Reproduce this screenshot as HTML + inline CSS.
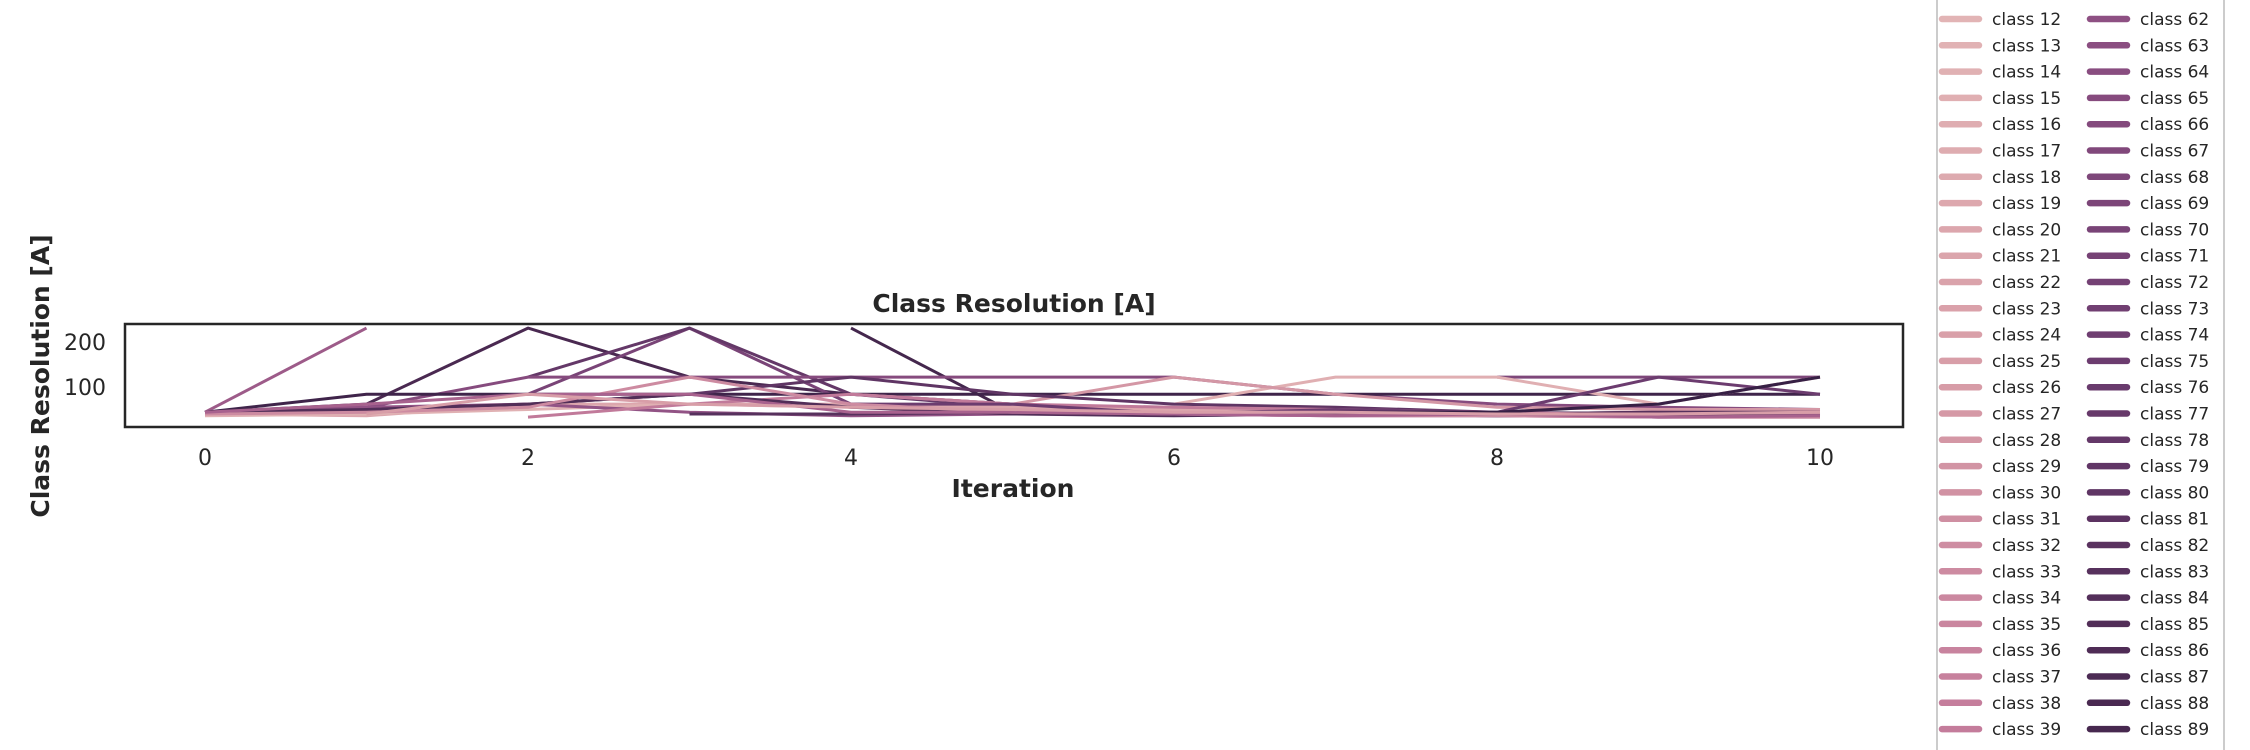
<!DOCTYPE html>
<html><head><meta charset="utf-8"><style>
html,body{margin:0;padding:0;background:#fff;width:2250px;height:750px;overflow:hidden}
svg{display:block;font-family:"DejaVu Sans","Liberation Sans",sans-serif}
</style></head><body>
<svg id="chart" width="2250" height="750" viewBox="0 0 2250 750">
<rect x="0" y="0" width="2250" height="750" fill="#fff"/>
<g id="plot"></g>
<rect x="125" y="324" width="1778" height="103" fill="none" stroke="#262626" stroke-width="2.5"/>
<text x="1014" y="312" text-anchor="middle" font-size="25" font-weight="bold" fill="#262626">Class Resolution [A]</text>
<text x="1013" y="497" text-anchor="middle" font-size="25" font-weight="bold" fill="#262626">Iteration</text>
<text transform="translate(49,376) rotate(-90)" text-anchor="middle" font-size="25" font-weight="bold" fill="#262626">Class Resolution [A]</text>
<g id="ticks"></g>
<line x1="1937" y1="0" x2="1937" y2="750" stroke="#cccccc" stroke-width="2"/>
<line x1="2224" y1="0" x2="2224" y2="750" stroke="#cccccc" stroke-width="2"/>
<g id="legend"></g>
</svg>
<script>
const iterations=[0,1,2,3,4,5,6,7,8,9,10];
const xTicks=[0,2,4,6,8,10];
const yTicks=[100,200];
const seriesClasses=[55,88,70,78,90,65,92,68,15,28,20,14,80,60,83,40,75,95,85,33,50,25];
const s55=[44,231,null,null,null,null,null,null,null,null,null];
const s88=[44,62,231,122,84,62,50,44,40,44,50];
const s70=[null,null,84,231,62,50,44,40,36,40,44];
const s78=[null,null,122,231,84,55,50,44,40,36,40];
const s90=[null,null,null,null,231,44,44,40,36,40,44];
const s65=[44,55,122,122,122,122,122,84,62,55,50];
const s92=[44,84,84,84,84,84,84,84,84,84,84];
const s68=[null,null,null,null,null,null,null,null,122,122,122];
const s15=[null,null,null,null,null,null,62,122,122,62,122];
const s28=[null,null,null,null,84,62,122,84,55,50,50];
const s20=[40,36,62,62,62,55,50,44,40,40,36];
const s14=[36,40,50,62,55,50,44,40,40,36,36];
const s80=[44,50,62,84,122,84,62,55,44,40,36];
const s60=[44,55,62,44,36,40,40,36,36,33,33];
const s83=[null,null,null,40,40,44,40,44,40,44,44];
const s40=[null,null,33,62,84,62,55,50,44,36,40];
const s75=[null,null,null,null,62,62,40,50,44,122,84];
const s95=[null,null,null,null,null,null,40,44,44,62,122];
const s85=[44,50,62,84,55,40,36,40,36,36,36];
const s33=[40,44,55,122,62,44,40,36,36,33,33];
const s50=[44,62,84,84,44,44,40,36,40,33,36];
const s25=[null,40,84,62,55,50,44,44,40,40,44];
const seriesValues=[s55,s88,s70,s78,s90,s65,s92,s68,s15,s28,s20,s14,s80,s60,s83,s40,s75,s95,s85,s33,s50,s25];
const legendClasses=Array.from({length:100},(_,i)=>i);

const NS='http://www.w3.org/2000/svg';
function xScale(v){return 205+161.5*v;}
function yScale(v){return 432-0.45*v;}
const stops=[[0,[239,209,207]],[12,[226,180,181]],[25,[216,158,168]],[39,[196,124,155]],[50,[168,98,142]],[62,[142,80,131]],[75,[108,60,111]],[89,[71,40,79]],[99,[45,27,62]]];
function color(c){
  for(let i=0;i<stops.length-1;i++){const a=stops[i],b=stops[i+1];
    if(c<=b[0]){const t=(c-a[0])/(b[0]-a[0]);
      return 'rgb('+a[1].map((v,k)=>Math.round(v+(b[1][k]-v)*t)).join(',')+')';}}
  return 'rgb(45,27,62)';
}
const plot=document.getElementById('plot');
seriesValues.forEach((vals,si)=>{
  let d='',pen=false;
  vals.forEach((v,i)=>{
    if(v===null){pen=false;return;}
    d+=(pen?'L':'M')+xScale(iterations[i]).toFixed(1)+' '+yScale(v).toFixed(1)+' ';pen=true;
  });
  const p=document.createElementNS(NS,'path');
  p.setAttribute('d',d);p.setAttribute('fill','none');
  p.setAttribute('stroke',color(seriesClasses[si]));p.setAttribute('stroke-width','3');
  p.setAttribute('stroke-linejoin','round');
  
  
  plot.appendChild(p);
});
const ticks=document.getElementById('ticks');
xTicks.forEach(t=>{
  const e=document.createElementNS(NS,'text');
  e.setAttribute('x',xScale(t));e.setAttribute('y',465);e.setAttribute('text-anchor','middle');
  e.setAttribute('font-size','22');e.setAttribute('fill','#262626');e.textContent=t;
  
  
  ticks.appendChild(e);
});
yTicks.forEach(t=>{
  const e=document.createElementNS(NS,'text');
  e.setAttribute('x',106);e.setAttribute('y',yScale(t)+8);e.setAttribute('text-anchor','end');
  e.setAttribute('font-size','22');e.setAttribute('fill','#262626');e.textContent=t;
  
  
  ticks.appendChild(e);
});
const legend=document.getElementById('legend');
legendClasses.forEach(c=>{
  const col=Math.floor(c/50),row=c%50;
  const y=19+(row-12)*26.3;
  if(y<-10||y>745)return;
  const hx=col?2090:1942;
  const g=document.createElementNS(NS,'g');
  
  
  const l=document.createElementNS(NS,'line');
  l.setAttribute('x1',hx);l.setAttribute('x2',hx+37);l.setAttribute('y1',y);l.setAttribute('y2',y);
  l.setAttribute('stroke',color(c));l.setAttribute('stroke-width','6.5');l.setAttribute('stroke-linecap','round');
  g.appendChild(l);
  const t=document.createElementNS(NS,'text');
  t.setAttribute('x',hx+50);t.setAttribute('y',y+6);t.setAttribute('font-size','17');t.setAttribute('fill','#262626');
  t.textContent='class '+c;
  g.appendChild(t);
  legend.appendChild(g);
});
</script>
</body></html>
